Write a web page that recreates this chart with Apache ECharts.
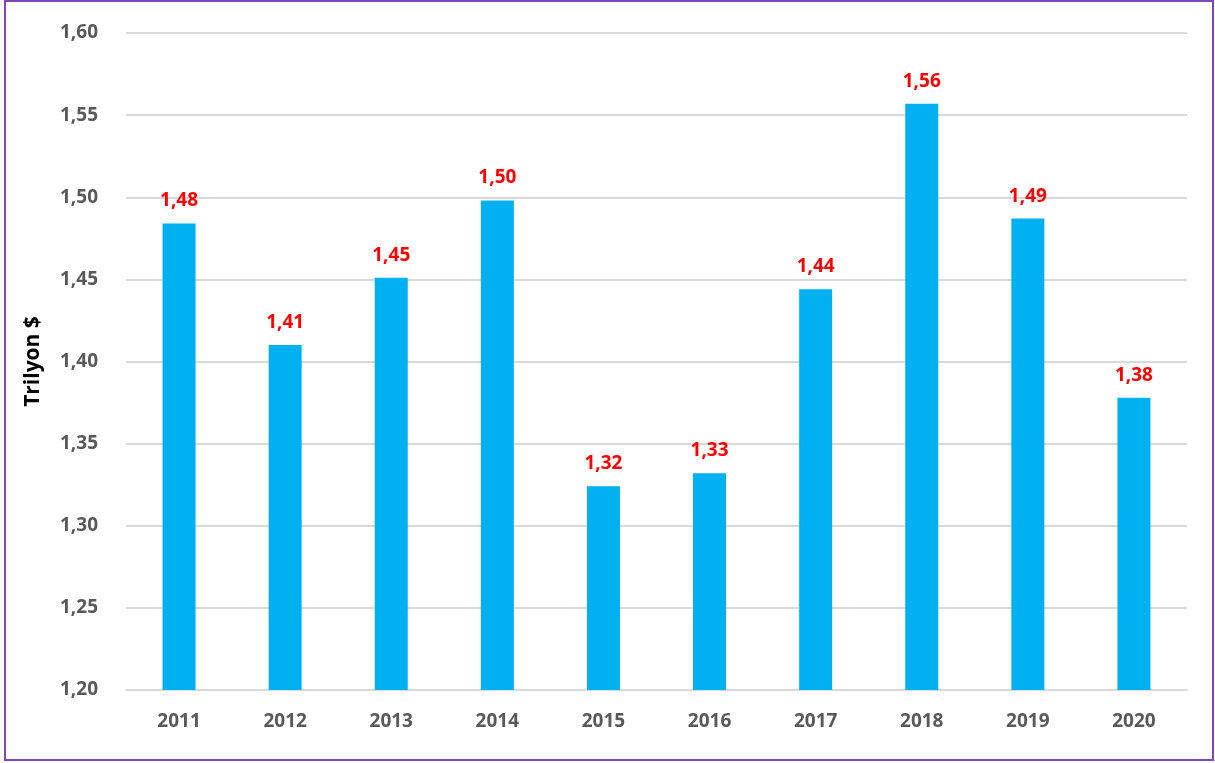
<!DOCTYPE html>
<html><head><meta charset="utf-8">
<script src="https://cdn.jsdelivr.net/npm/echarts@6/dist/echarts.min.js"></script>
<style>
html,body{margin:0;padding:0;background:#fff;}
#frame{position:absolute;left:4px;top:0px;width:1206px;height:757px;border:2px solid #7F47B8;box-sizing:content-box;}
#c{position:absolute;left:0;top:0;width:1215px;height:763px;}
</style></head>
<body>
<div id="frame"></div>
<div id="c"></div>
<script>
const categories = ['2011','2012','2013','2014','2015','2016','2017','2018','2019','2020'];
const values = [1.484, 1.410, 1.451, 1.498, 1.324, 1.332, 1.444, 1.557, 1.487, 1.378];
const yTicks = {min:1.20, max:1.60, interval:0.05};
const fmt = v => v.toFixed(2).replace('.', ',');
const chart = echarts.init(document.getElementById('c'));
chart.setOption({
  animation:false,
  grid:{left:126, right:28, top:33, bottom:73},
  xAxis:{type:'category', data:categories,
    axisLine:{show:true, lineStyle:{color:'#d9d9d9', width:2}},
    axisTick:{show:false},
    axisLabel:{color:'#595959', fontSize:19, fontWeight:'bold', fontFamily:'Open Sans', margin:22}},
  yAxis:{type:'value', min:yTicks.min, max:yTicks.max, interval:yTicks.interval,
    name:'Trilyon $', nameLocation:'middle', nameGap:82, nameRotate:90,
    nameTextStyle:{color:'#000', fontSize:21, fontWeight:'bold', fontFamily:'Open Sans'},
    axisLine:{show:false}, axisTick:{show:false},
    splitLine:{lineStyle:{color:'#d9d9d9', width:2}},
    axisLabel:{color:'#595959', fontSize:19, fontWeight:'bold', fontFamily:'Open Sans', margin:28, formatter:fmt}},
  series:[{type:'bar', data:values, barWidth:33,
    itemStyle:{color:'#00B0F0'},
    label:{show:true, position:'top', distance:13, color:'#FF0000', fontSize:19, fontWeight:'bold', fontFamily:'Open Sans',
      formatter:p=>fmt(p.value)}}]
});
</script>
</body></html>
